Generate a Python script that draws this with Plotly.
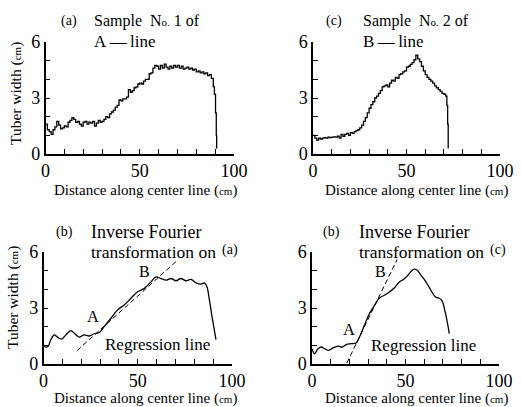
import plotly.graph_objects as go

# ---------- data ----------
a_x = [0, 1, 2, 3, 4, 5, 6, 7, 8, 9, 10, 11, 12, 13, 14, 15, 16, 17, 18, 19, 20,
       21, 22, 23, 24, 25, 26, 27, 28, 29, 30, 31, 32, 33, 34, 35, 36, 37, 38, 39, 40,
       41, 42, 43, 44, 45, 46, 47, 48, 49, 50, 51, 52, 53, 54, 55, 56, 57, 58, 59, 60,
       61, 62, 63, 64, 65, 66, 67, 68, 69, 70, 71, 72, 73, 74, 75, 76, 77, 78, 79, 80,
       81, 82, 83, 84, 85, 86, 87, 88, 89, 89.6, 90.2, 90.6, 90.8]
a_y = [1.6, 1.3, 1.2, 1.05, 1.3, 1.45, 1.75, 1.55, 1.35, 1.4, 1.5, 1.45, 1.7, 1.8, 1.95, 1.85, 1.7, 1.75, 1.6, 1.5, 1.7,
       1.75, 1.6, 1.7, 1.65, 1.75, 1.5, 1.65, 1.8, 1.7, 1.75, 1.85, 2.0, 1.95, 2.15, 2.25, 2.35, 2.5, 2.6, 2.9, 2.85,
       2.95, 2.95, 3.05, 3.45, 3.3, 3.4, 3.55, 3.6, 3.75, 3.8, 3.75, 3.9, 4.0, 4.0, 4.3, 4.35, 4.6, 4.75, 4.7, 4.55,
       4.75, 4.6, 4.82, 4.65, 4.55, 4.7, 4.6, 4.75, 4.65, 4.75, 4.6, 4.7, 4.55, 4.6, 4.65, 4.55, 4.6, 4.5, 4.55, 4.4,
       4.45, 4.35, 4.4, 4.3, 4.35, 4.2, 4.25, 4.05, 3.6, 3.2, 2.2, 1.0, 0.3]

c_x = [0, 1, 2, 3, 4, 5, 6, 7, 8, 9, 10, 11, 12, 13, 14, 15, 16, 17, 18, 19, 20,
       21, 22, 23, 24, 25, 26, 27, 28, 29, 30, 31, 32, 33, 34, 35, 36, 37, 38, 39, 40,
       41, 42, 43, 44, 45, 46, 47, 48, 49, 50, 51, 52, 53, 54, 55, 56, 57, 58, 59, 60,
       61, 62, 63, 64, 65, 66, 67, 68, 69, 70, 71, 71.6, 72, 72.3]
c_y = [1.0, 0.85, 0.75, 0.85, 0.8, 0.85, 0.88, 0.85, 0.9, 0.88, 0.9, 0.92, 0.9, 0.95, 0.85, 1.05, 0.95, 1.05, 1.1, 1.0, 1.15,
       1.1, 1.2, 1.25, 1.3, 1.4, 1.55, 1.75, 1.95, 2.2, 2.45, 2.65, 2.8, 3.0, 3.1, 3.25, 3.4, 3.6, 3.65, 3.7, 3.6,
       3.8, 3.95, 3.9, 4.1, 4.05, 4.25, 4.3, 4.4, 4.45, 4.65, 4.7, 4.8, 4.9, 5.05, 5.3, 5.1, 4.95, 4.7, 4.45, 4.25,
       4.1, 4.0, 3.9, 3.8, 3.65, 3.55, 3.45, 3.35, 3.25, 3.2, 3.1, 2.6, 1.6, 0.3]

b_x = [0, 1.2, 2.5, 3.9, 5.7, 7.4, 9.6, 11.9, 14.5, 16.6, 18.9, 21.6, 24.2, 26.9, 29.6, 32.2, 35.8, 39.3,
       42.8, 46.4, 49.9, 53.5, 57, 59.6, 62.3, 65, 67.6, 70.3, 72.9, 75.6, 78.2, 80.9, 83.5, 85.3, 86.7,
       88, 89.7, 91.5]
b_y = [1.03, 0.9, 0.96, 1.3, 1.56, 1.44, 1.33, 1.56, 1.79, 1.62, 1.44, 1.56, 1.5, 1.62, 1.69, 2.0, 2.45, 2.9,
       3.16, 3.52, 3.87, 4.05, 4.4, 4.67, 4.58, 4.49, 4.58, 4.46, 4.58, 4.46, 4.53, 4.35, 4.28, 4.35, 4.14,
       3.43, 2.36, 1.3]
b_reg_x = [17.8, 71.0]
b_reg_y = [0.72, 5.55]

d_x = [0, 1.4, 3.2, 5, 6.7, 9, 11.2, 13.9, 16.2, 18.3, 21, 23.6, 25.4, 28, 30.7, 33.4, 36, 38.7, 41.4, 44,
       46.7, 49.4, 52, 54.2, 56, 58.3, 61, 63.6, 66, 67.7, 69.4, 71.2, 72.5, 73.4]
d_y = [0.82, 0.55, 0.82, 0.91, 0.82, 0.73, 0.86, 0.96, 0.91, 1.04, 1.09, 1.13, 1.45, 2.07, 2.7, 3.14, 3.54,
       3.68, 3.86, 4.07, 4.39, 4.57, 4.84, 5.07, 5.05, 4.75, 4.39, 3.95, 3.59, 3.54, 3.41, 2.79, 2.16, 1.63]
d_reg_x = [18.6, 45.5]
d_reg_y = [0.05, 5.6]

x_ticks = ["0", "50", "100"]
y_ticks = ["0", "3", "6"]

FONT = "Liberation Serif, Times New Roman, DejaVu Serif, serif"

fig = go.Figure()

def curve(x, y, ax, shape, dash="solid", width=1.3):
    fig.add_trace(go.Scatter(x=x, y=y, xaxis="x" + ax, yaxis="y" + ax, mode="lines",
                             line=dict(color="black", width=width, shape=shape, dash=dash),
                             showlegend=False, hoverinfo="skip"))

curve(a_x, a_y, "", "hv")
curve(c_x, c_y, "2", "hv")
curve(b_x, b_y, "3", "spline")
curve(b_reg_x, b_reg_y, "3", "linear", dash="5px,3px", width=1)
curve(d_x, d_y, "4", "spline")
curve(d_reg_x, d_reg_y, "4", "linear", dash="5px,3px", width=1)

TICKFONT = dict(family=FONT, size=18, color="black")

def xax(domain, anchor):
    return dict(domain=domain, anchor=anchor, range=[0, 100], showgrid=False, zeroline=False,
                showline=True, linecolor="black", linewidth=1.5,
                tickmode="array", tickvals=[0, 50, 100], ticktext=x_ticks,
                ticks="inside", ticklen=5, tickwidth=1, tickcolor="black",
                minor=dict(dtick=10, tick0=0, ticks="inside", ticklen=5, tickwidth=1, tickcolor="black"),
                tickfont=TICKFONT, automargin=False)

def yax(domain, anchor):
    return dict(domain=domain, anchor=anchor, range=[0, 6], showgrid=False, zeroline=False,
                showline=True, linecolor="black", linewidth=1.5,
                tickmode="array", tickvals=[0, 3, 6], ticktext=y_ticks,
                ticks="inside", ticklen=5, tickwidth=1, tickcolor="black",
                minor=dict(dtick=1, tick0=0, ticks="inside", ticklen=5, tickwidth=1, tickcolor="black"),
                tickfont=TICKFONT, automargin=False)

W, H = 521, 407
def px(v): return v / W
def py(v): return 1 - v / H

fig.update_layout(
    width=W, height=H, margin=dict(l=0, r=0, t=0, b=0),
    paper_bgcolor="white", plot_bgcolor="white",
    font=dict(family=FONT, color="black"),
    xaxis=xax([px(45.5), px(234)], "y"), yaxis=yax([py(154), py(42)], "x"),
    xaxis2=xax([px(313), px(500)], "y2"), yaxis2=yax([py(154), py(42)], "x2"),
    xaxis3=xax([px(43.5), px(232)], "y3"), yaxis3=yax([py(364), py(252)], "x3"),
    xaxis4=xax([px(312), px(499)], "y4"), yaxis4=yax([py(364), py(252)], "x4"),
)

ann = []
def txt(x, y, s, size, xanchor="left", angle=0, xref="paper", yref="paper"):
    ann.append(dict(x=x, y=y, xref=xref, yref=yref, text=s, showarrow=False, xanchor=xanchor,
                    align=xanchor if xanchor != "center" else "center",
                    yanchor="middle", textangle=angle, font=dict(family=FONT, size=size, color="black")))

cm = "(<span style='font-size:11px'>cm</span>)"
# titles
txt(px(59), py(21), "(a)", 14)
txt(px(92), py(21), "Sample  N<span style='font-size:11px'>o.</span> 1 of", 16)
txt(px(92), py(42), "A\u2009\u2014\u2009line", 17)
txt(px(324), py(21), "(c)", 14)
txt(px(361), py(21), "Sample  N<span style='font-size:11px'>o.</span> 2 of", 16)
txt(px(361), py(41), "B\u2009\u2014\u2009line", 17)
txt(px(54), py(232), "(b)", 14)
txt(px(89), py(232), "Inverse Fourier", 18)
txt(px(89), py(252), "transformation on", 17.5)
txt(px(220), py(250), "(a)", 14)
txt(px(321), py(232), "(b)", 14)
txt(px(357), py(232), "Inverse Fourier", 18)
txt(px(357), py(252), "transformation on", 17.5)
txt(px(488), py(250), "(c)", 14)
# axis titles
txt(px(16), py(94), "Tuber width " + cm, 15.5, xanchor="center", angle=-90)
txt(px(13), py(298), "Tuber width " + cm, 15.5, xanchor="center", angle=-90)
for cx, cy in [(145, 190), (416, 190), (145, 398), (416, 398)]:
    txt(px(cx), py(cy), "Distance along center line " + cm, 15, xanchor="center")
# in-plot labels
txt(26.3, 2.52, "A", 16.5, xanchor="center", xref="x3", yref="y3")
txt(53.7, 4.94, "B", 16, xanchor="center", xref="x3", yref="y3")
txt(60.7, 1.02, "Regression line", 17, xanchor="center", xref="x3", yref="y3")
txt(19.8, 1.83, "A", 16.5, xanchor="center", xref="x4", yref="y4")
txt(36.7, 4.94, "B", 16, xanchor="center", xref="x4", yref="y4")
txt(59.7, 1.0, "Regression line", 17, xanchor="center", xref="x4", yref="y4")

fig.update_layout(annotations=ann)
fig.write_html("out.html", config={"displayModeBar": False},
               post_script="document.body.style.margin='0px';document.body.style.overflow='hidden';")
